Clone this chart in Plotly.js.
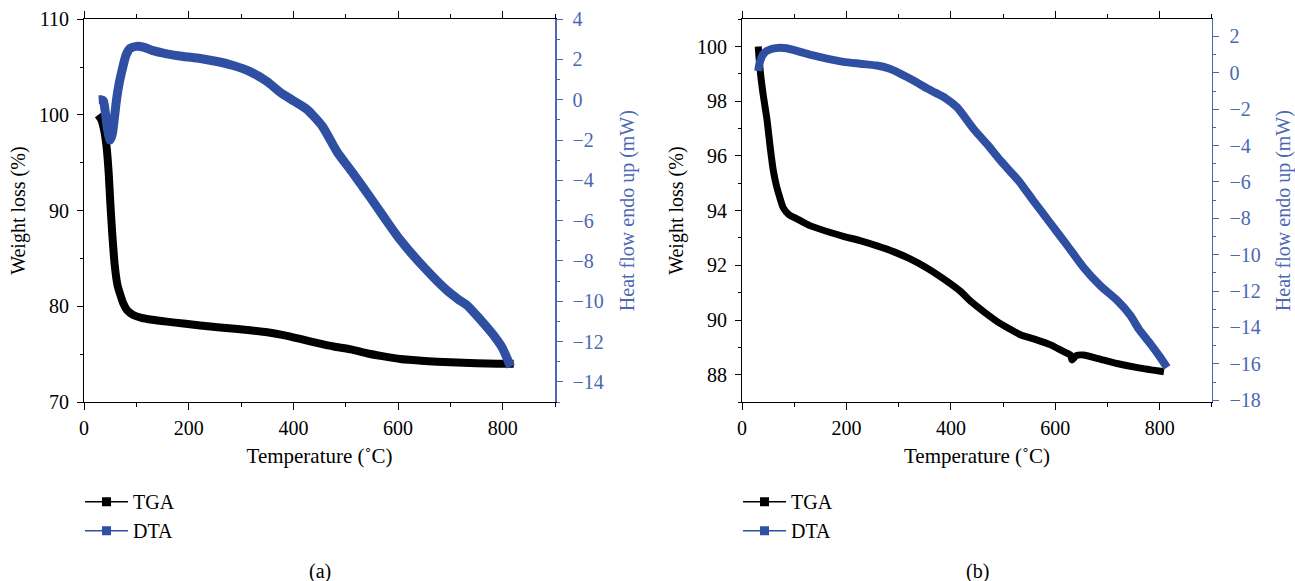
<!DOCTYPE html>
<html>
<head>
<meta charset="utf-8">
<script src="https://cdn.plot.ly/plotly-3.0.1.min.js"></script>
<style>html,body{margin:0;padding:0;background:#fff;}#chart{width:1295px;height:581px;}</style>
</head>
<body>
<div id="chart"></div>
<script>
// ---------- Panel (a) ----------
const tgaA_T = [27, 33, 38, 43, 47, 50, 54, 59, 64, 70, 75, 82, 94, 110, 130, 158, 190, 222, 260, 317, 350, 381, 413, 451, 477, 510, 540, 570, 604, 650, 700, 750, 790, 821];
const tgaA_W = [100, 99.5, 98.5, 96.7, 94, 91, 87.5, 84.1, 82.2, 81.1, 80.3, 79.6, 79.1, 78.8, 78.6, 78.4, 78.2, 78.0, 77.8, 77.5, 77.3, 77.0, 76.6, 76.1, 75.8, 75.5, 75.1, 74.8, 74.5, 74.3, 74.15, 74.05, 74.0, 74.0];
const dtaA_T = [28, 32, 37, 40, 45, 50, 54, 58, 62, 67, 73, 80, 88, 100, 115, 130, 158, 190, 222, 254, 285, 317, 350, 375, 400, 426, 455, 484, 514, 547, 575, 604, 649, 693, 715, 732, 757, 780, 799, 815];
const dtaA_H = [0.0, 0.0, -0.05, -0.5, -1.5, -2.0, -1.7, -0.9, 0.0, 0.8, 1.5, 2.2, 2.55, 2.65, 2.6, 2.45, 2.28, 2.15, 2.05, 1.9, 1.7, 1.4, 0.9, 0.37, -0.05, -0.48, -1.3, -2.6, -3.65, -4.85, -5.9, -6.95, -8.3, -9.45, -9.9, -10.2, -10.9, -11.6, -12.3, -13.25];

// ---------- Panel (b) ----------
const tgaB_T = [31, 33, 36, 40, 44, 48, 54, 60, 66, 72, 79, 90, 105, 130, 169, 194, 226, 260, 290, 320, 354, 386, 418, 440, 463, 488, 510, 533, 560, 591, 615, 629, 632, 635, 640, 654, 680, 718, 760, 808];
const tgaB_W = [100, 99.5, 98.9, 98.3, 97.8, 97.3, 96.3, 95.45, 94.9, 94.5, 94.1, 93.85, 93.7, 93.45, 93.2, 93.06, 92.9, 92.7, 92.5, 92.25, 91.9, 91.5, 91.05, 90.65, 90.3, 89.95, 89.7, 89.46, 89.3, 89.09, 88.85, 88.72, 88.54, 88.6, 88.7, 88.72, 88.6, 88.41, 88.25, 88.11];
const dtaB_T = [31, 33, 36, 40, 47, 55, 65, 73, 85, 100, 115, 130, 150, 194, 226, 258, 280, 303, 330, 354, 370, 390, 412, 443, 470, 495, 530, 558, 590, 623, 654, 686, 718, 744, 760, 782, 800, 814];
const dtaB_H = [0.1, 0.45, 0.75, 1.0, 1.2, 1.3, 1.36, 1.38, 1.35, 1.25, 1.12, 1.0, 0.86, 0.6, 0.5, 0.4, 0.25, -0.04, -0.45, -0.85, -1.09, -1.4, -1.9, -3.07, -3.95, -4.83, -5.95, -7.04, -8.25, -9.5, -10.7, -11.7, -12.5, -13.35, -14.1, -14.9, -15.6, -16.2];

const seriesNames = ['TGA', 'DTA'];
const panelLabels = ['(a)', '(b)'];
const xTitle = 'Temperature (˚C)';
const yLeftTitle = 'Weight loss (%)';
const yRightTitle = 'Heat flow endo up (mW)';

const BLACK = '#000000';
const BLUE = '#2f4fa3';
const AXBLUE = '#4a68b3';
const FONT = '"Liberation Serif", "DejaVu Serif", serif';

function mainTrace(x, y, color, xa, ya, w) {
  return {x: x, y: y, xaxis: xa, yaxis: ya, type: 'scatter', mode: 'lines',
    line: {color: color, width: w, shape: 'spline', smoothing: 0.6}, showlegend: false, hoverinfo: 'skip'};
}
function legendTrace(name, color, xa, ya, leg) {
  return {x: [null], y: [null], xaxis: xa, yaxis: ya, type: 'scatter', mode: 'lines+markers', name: name,
    legend: leg, showlegend: true, line: {color: color, width: 1.5}, marker: {symbol: 'square', size: 9, color: color}};
}

const data = [
  mainTrace(tgaA_T, tgaA_W, BLACK, 'x', 'y', 8),
  mainTrace(dtaA_T, dtaA_H, BLUE, 'x', 'y2', 9),
  mainTrace(tgaB_T, tgaB_W, BLACK, 'x2', 'y3', 7),
  mainTrace(dtaB_T, dtaB_H, BLUE, 'x2', 'y4', 8),
  legendTrace(seriesNames[0], BLACK, 'x', 'y', 'legend'),
  legendTrace(seriesNames[1], BLUE, 'x', 'y2', 'legend'),
  legendTrace(seriesNames[0], BLACK, 'x2', 'y3', 'legend2'),
  legendTrace(seriesNames[1], BLUE, 'x2', 'y4', 'legend2')
];

const tf = {family: FONT, size: 20, color: '#000'};
const tfT = {family: FONT, size: 21, color: '#000'};
const tfBlue = {family: FONT, size: 20, color: AXBLUE};

function xAxis(domain, anchor) {
  return {domain: domain, anchor: anchor, range: [0, 900], tick0: 0, dtick: 200,
    ticks: 'outside', ticklen: 7, tickwidth: 1, tickcolor: '#000', linecolor: '#000', linewidth: 1,
    mirror: 'ticks', showgrid: false, zeroline: false, tickfont: tf, ticklabelstandoff: 1,
    minor: {dtick: 100, ticks: 'outside', ticklen: 4, tickcolor: '#000', showgrid: false},
    title: {text: xTitle, font: tfT, standoff: 10}};
}
function yLeft(domain, anchor, range, dtick, mdtick) {
  return {domain: domain, anchor: anchor, range: range, dtick: dtick,
    ticks: 'outside', ticklen: 6, tickwidth: 1, tickcolor: '#000', linecolor: '#000', linewidth: 1,
    showgrid: false, zeroline: false, tickfont: tf, ticklabelstandoff: 4,
    minor: {dtick: mdtick, ticks: 'outside', ticklen: 3, tickcolor: '#000', showgrid: false},
    title: {text: yLeftTitle, font: tf, standoff: 8}};
}
function yRight(over, anchor, range) {
  return {overlaying: over, anchor: anchor, side: 'right', range: range, dtick: 2, tick0: 0,
    ticks: 'outside', ticklen: 6, tickwidth: 1, tickcolor: AXBLUE, linecolor: AXBLUE, linewidth: 1.5,
    showgrid: false, zeroline: false, tickfont: tfBlue, ticklabelstandoff: 6,
    minor: {dtick: 1, ticks: 'outside', ticklen: 3, tickcolor: AXBLUE, showgrid: false},
    title: {text: yRightTitle, font: tfBlue, standoff: 17}};
}

const yDom = [0.308, 0.967];
const layout = {
  width: 1295, height: 581,
  margin: {l: 0, r: 0, t: 0, b: 0},
  paper_bgcolor: '#fff', plot_bgcolor: '#fff',
  font: tf,
  xaxis: xAxis([0.0649, 0.4286], 'y'),
  yaxis: yLeft(yDom, 'x', [70, 110], 10, 5),
  yaxis2: yRight('y', 'x', [-15, 4]),
  xaxis2: xAxis([0.573, 0.9359], 'y3'),
  yaxis3: yLeft(yDom, 'x2', [87, 101], 2, 1),
  yaxis4: yRight('y3', 'x2', [-18.1, 2.95]),
  legend: {x: 0.0618, xanchor: 'left', y: 0.1116, yanchor: 'middle', font: tf, bgcolor: 'rgba(0,0,0,0)',
    itemwidth: 43, tracegroupgap: 0},
  legend2: {x: 0.5699, xanchor: 'left', y: 0.1116, yanchor: 'middle', font: tf, bgcolor: 'rgba(0,0,0,0)',
    itemwidth: 43, tracegroupgap: 0},
  annotations: [
    {text: panelLabels[0], xref: 'paper', yref: 'paper', x: 320 / 1295, y: 1 - 571 / 581, showarrow: false, font: tf, xanchor: 'center', yanchor: 'middle'},
    {text: panelLabels[1], xref: 'paper', yref: 'paper', x: 977 / 1295, y: 1 - 571 / 581, showarrow: false, font: tf, xanchor: 'center', yanchor: 'middle'}
  ]
};

Plotly.newPlot('chart', data, layout, {staticPlot: true, displayModeBar: false});
</script>
</body>
</html>
